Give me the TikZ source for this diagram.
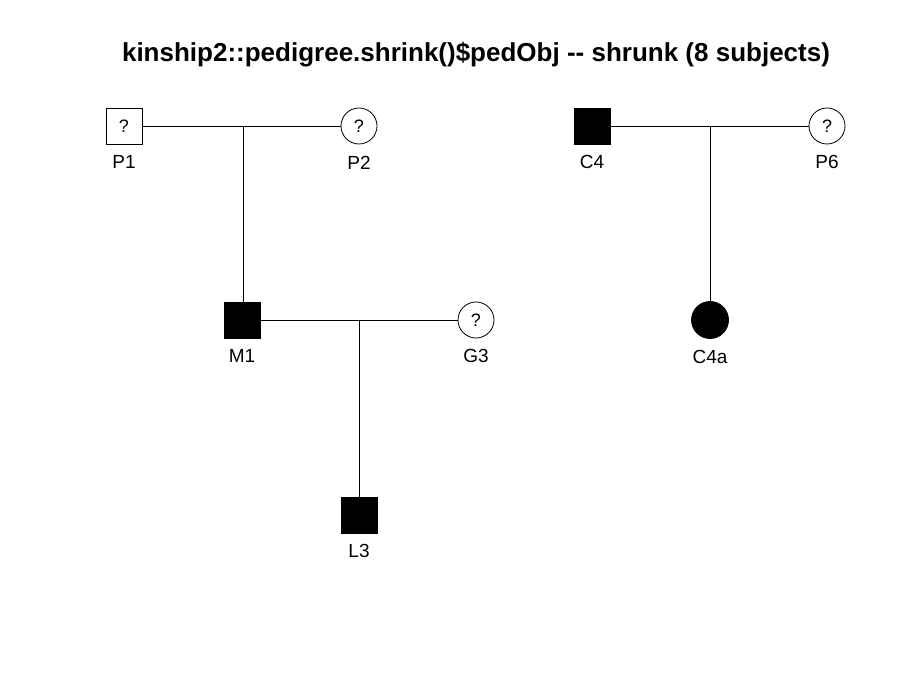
\documentclass[tikz,border=0pt]{standalone}
\usepackage{fontspec}
\setmainfont{Liberation Sans}
\begin{document}
\begin{tikzpicture}[x=1pt,y=-1pt,
  sq/.style={draw,line width=0.8pt,minimum size=36pt,inner sep=0pt,fill=white,font=\fontsize{18}{18}\selectfont},
  ci/.style={draw,line width=0.8pt,circle,minimum size=36pt,inner sep=0pt,fill=white,font=\fontsize{18}{18}\selectfont},
  aff/.style={fill=black},
  lab/.style={font=\fontsize{19}{19}\selectfont},
  ln/.style={line width=0.6pt}]
\useasboundingbox (0,0) rectangle (900,700);
\node[font=\bfseries\fontsize{26}{26}\selectfont] (title) at (476,55) {kinship2::pedigree.shrink()\$pedObj {-}{-} shrunk (8 subjects)};
\node[sq] (P1) at (124,126) {?};
\node[ci] (P2) at (359,126) {?};
\node[sq,aff] (M1) at (242,320) {};
\node[ci] (G3) at (476,320) {?};
\node[sq,aff] (L3) at (359,515) {};
\node[sq,aff] (C4) at (592,126) {};
\node[ci] (P6) at (827,126) {?};
\node[ci,aff,minimum size=37pt] (C4a) at (710,320) {};
\foreach \n in {P1,P2,M1,G3,L3,C4,P6,C4a}{\node[lab] (l\n) at ([yshift=-18pt]\n.south) {\n};}
\draw[ln] (P1.east) -- (P2.west);
\draw[ln] (M1.east) -- (G3.west);
\draw[ln] (C4.east) -- (P6.west);
\coordinate (m1) at (243,126);
\coordinate (m2) at (359,320);
\coordinate (m3) at (710,126);
\draw[ln] (m1) -- (m1 |- M1.north);
\draw[ln] (m2) -- (L3.north);
\draw[ln] (m3) -- (C4a.north);
\end{tikzpicture}
\end{document}
